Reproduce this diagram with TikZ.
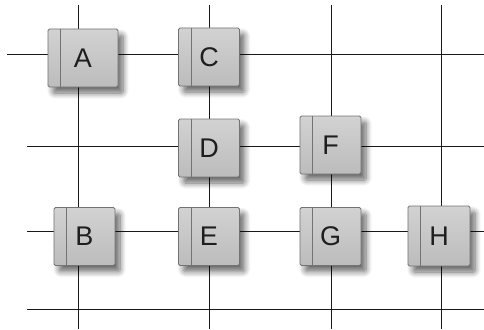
\documentclass[tikz,border=0pt]{standalone}
\usepackage{fontspec}
\setmainfont{Liberation Sans}
\usetikzlibrary{shadows.blur}
\definecolor{gridc}{RGB}{25,25,25}
\definecolor{boxtop}{RGB}{210,210,210}
\definecolor{boxbot}{RGB}{188,188,188}
\definecolor{boxline}{RGB}{115,115,115}
\definecolor{txt}{RGB}{30,30,30}
\tikzset{
  gridline/.style={draw=gridc, line width=1pt},
  boxnode/.style={rectangle, rounded corners=1.5pt, draw=boxline, line width=0.8pt,
    top color=boxtop, bottom color=boxbot, inner sep=0pt,
    minimum width=61pt, minimum height=58pt,
    font=\fontsize{27}{27}\selectfont, text=txt,
    blur shadow={shadow xshift=5pt, shadow yshift=-6pt, shadow blur steps=8, shadow opacity=60, shadow blur radius=6pt},
    path picture={\draw[boxline, line width=0.7pt]
      ([xshift=12.5pt]path picture bounding box.north west) --
      ([xshift=12.5pt]path picture bounding box.south west);}},
}
\begin{document}
\begin{tikzpicture}[x=1pt, y=-1pt]
\useasboundingbox (0,0) rectangle (484,329);
% grid end points
\coordinate (h1l) at (7,55);   \coordinate (h1r) at (484,55);
\coordinate (h2l) at (27,146); \coordinate (h2r) at (484,146);
\coordinate (h3l) at (27,231); \coordinate (h3r) at (484,231);
\coordinate (h4l) at (27,309); \coordinate (h4r) at (484,309);
\coordinate (v1t) at (78,5);   \coordinate (v1b) at (78,329);
\coordinate (v2t) at (209,5);  \coordinate (v2b) at (209,329);
\coordinate (v3t) at (331,5);  \coordinate (v3b) at (331,329);
\coordinate (v4t) at (441,5);  \coordinate (v4b) at (441,329);
\draw[gridline] (h1l) -- (h1r);
\draw[gridline] (h2l) -- (h2r);
\draw[gridline] (h3l) -- (h3r);
\draw[gridline] (h4l) -- (h4r);
\draw[gridline] (v1t) -- (v1b);
\draw[gridline] (v2t) -- (v2b);
\draw[gridline] (v3t) -- (v3b);
\draw[gridline] (v4t) -- (v4b);
% boxes
\node[boxnode, minimum width=70pt] (A) at (83,58) {A};
\node[boxnode] (C) at (209,57) {C};
\node[boxnode] (D) at (209,148) {D};
\node[boxnode] (F) at (330.5,145) {F};
\node[boxnode] (B) at (84.5,236.5) {B};
\node[boxnode] (E) at (209,236.5) {E};
\node[boxnode] (G) at (330.5,236.5) {G};
\node[boxnode, minimum width=62pt, minimum height=60pt] (H) at (439,236) {H};
\end{tikzpicture}
\end{document}
